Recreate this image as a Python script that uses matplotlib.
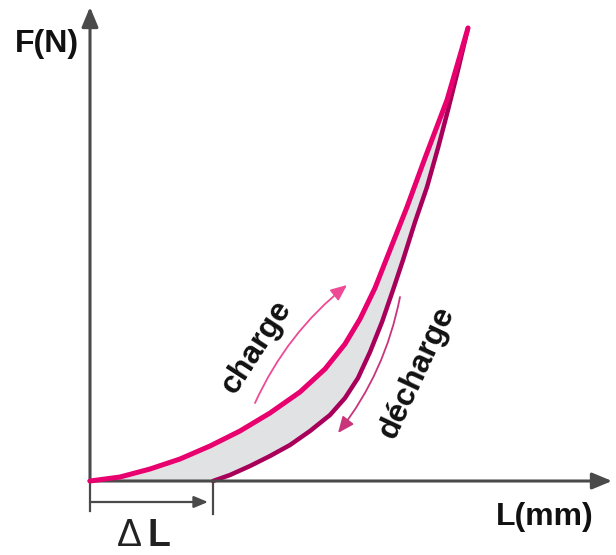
import matplotlib.pyplot as plt

# courbe d'hystérésis (L en px depuis l'origine, F en px au-dessus de l'axe)
charge_L = [0, 30, 60, 90, 120, 150, 180, 210, 235, 255, 270, 285, 300, 317, 335, 357, 378]
charge_F = [0, 4, 12, 22, 35, 50, 68, 89, 112, 137, 162, 193, 231, 274, 323, 381, 453]
decharge_L = [123, 140, 160, 180, 200, 220, 240, 255, 268, 280, 292, 303, 313, 325, 337, 348, 358, 368, 378]
decharge_F = [0, 6, 15, 25, 36, 50, 66, 83, 103, 129, 159, 191, 221, 259, 294, 333, 371, 411, 453]
delta_L = 123

plt.rcParams['font.family'] = ['Liberation Sans', 'DejaVu Sans']

fig = plt.figure(figsize=(6.16, 5.55), dpi=100)
ax = fig.add_axes([0, 0, 1, 1])
ax.set_xlim(-90, 526)
ax.set_ylim(-74, 481)
ax.axis('off')

# zone grise entre les deux courbes
poly_L = charge_L + decharge_L[::-1]
poly_F = charge_F + decharge_F[::-1]
ax.fill(poly_L, poly_F, color='#e1e2e4', zorder=1)

ax.plot(decharge_L, decharge_F, color='#a8005a', lw=3.2, solid_capstyle='round',
        solid_joinstyle='round', zorder=3)
ax.plot(charge_L, charge_F, color='#e8006f', lw=3.6, solid_capstyle='round',
        solid_joinstyle='round', zorder=4)

# axes avec flèches
axe = dict(arrowstyle='-|>,head_length=0.6,head_width=0.25', color='#4a4a4a', lw=2.2,
           mutation_scale=20, shrinkA=0, shrinkB=0)
ax.annotate('', xy=(0, 474), xytext=(0, -1), arrowprops=axe)
ax.annotate('', xy=(522, 0), xytext=(-1, 0), arrowprops=axe)

# ΔL
ax.plot([0, 0], [0, -30], color='#4a4a4a', lw=1.6)
ax.plot([delta_L, delta_L], [0, -33], color='#4a4a4a', lw=1.6)
ax.annotate('', xy=(delta_L - 5, -21), xytext=(0, -21),
            arrowprops=dict(arrowstyle='-|>,head_length=0.6,head_width=0.25', color='#4a4a4a',
                            lw=1.6, mutation_scale=14, shrinkA=0, shrinkB=0))
ax.text(39, -65, 'Δ', fontsize=27, ha='center', va='baseline', color='#222')
ax.text(69, -65, 'L', fontsize=27, fontweight='bold', ha='center', va='baseline', color='#222')

# petites flèches
ax.annotate('', xy=(257, 196), xytext=(165, 78),
            arrowprops=dict(arrowstyle='-|>,head_length=0.7,head_width=0.3', color='#ee4a96',
                            lw=1.3, mutation_scale=14, shrinkA=0, shrinkB=0,
                            connectionstyle='arc3,rad=-0.12'))
ax.annotate('', xy=(248, 48), xytext=(310, 184),
            arrowprops=dict(arrowstyle='-|>,head_length=0.7,head_width=0.3', color='#c8357a',
                            lw=1.3, mutation_scale=14, shrinkA=0, shrinkB=0,
                            connectionstyle='arc3,rad=-0.12'))

txt = dict(fontsize=23, fontweight='bold', color='#111', ha='center', va='center')
ax.text(167, 134, 'charge', rotation=57, **txt)
ax.text(327, 109, 'décharge', rotation=65, **txt)
ax.text(-43, 437, 'F(N)', **txt)
ax.text(455, -36, 'L(mm)', **txt)

fig.savefig('out.png', dpi=100)
